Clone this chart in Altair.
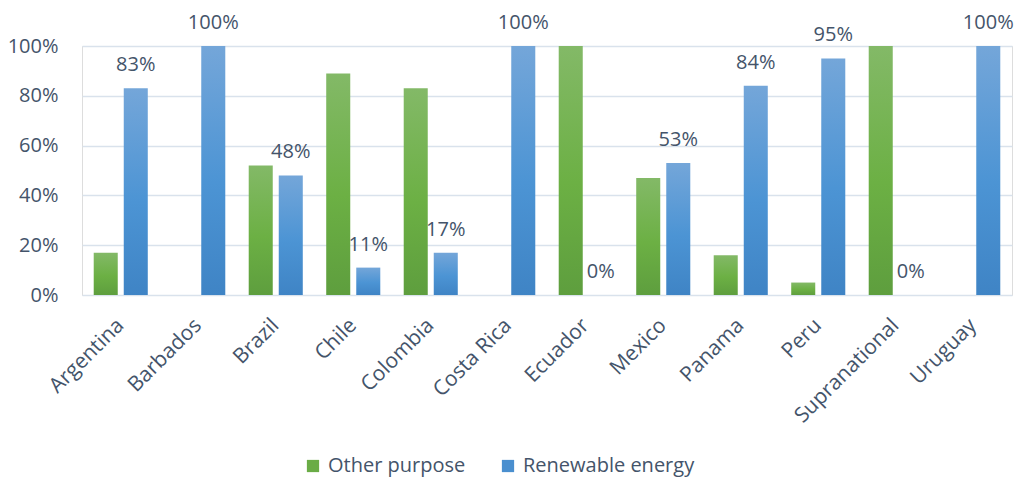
import altair as alt
import pandas as pd

countries = ["Argentina", "Barbados", "Brazil", "Chile", "Colombia", "Costa Rica",
             "Ecuador", "Mexico", "Panama", "Peru", "Supranational", "Uruguay"]
other_purpose = [0.17, 0.00, 0.52, 0.89, 0.83, 0.00, 1.00, 0.47, 0.16, 0.05, 1.00, 0.00]
renewable_energy = [0.83, 1.00, 0.48, 0.11, 0.17, 1.00, 0.00, 0.53, 0.84, 0.95, 0.00, 1.00]
series_names = ["Other purpose", "Renewable energy"]
series_colors = ["#6aac46", "#4a8fcf"]

rows = []
for c, o, r in zip(countries, other_purpose, renewable_energy):
    rows.append({"country": c, "series": series_names[0], "value": o})
    rows.append({"country": c, "series": series_names[1], "value": r})
df = pd.DataFrame(rows)

FONT = "Open Sans"
TEXT = "#44546a"

green_grad = alt.Gradient(gradient="linear", x1=0, y1=0, x2=0, y2=1,
                          stops=[alt.GradientStop(color="#83b967", offset=0),
                                 alt.GradientStop(color="#6cb044", offset=0.55),
                                 alt.GradientStop(color="#5e9e3e", offset=1)])
blue_grad = alt.Gradient(gradient="linear", x1=0, y1=0, x2=0, y2=1,
                         stops=[alt.GradientStop(color="#74a6d9", offset=0),
                                alt.GradientStop(color="#4c94d4", offset=0.55),
                                alt.GradientStop(color="#3f84c5", offset=1)])

x_enc = alt.X("country:N", sort=countries, title=None,
              scale=alt.Scale(paddingInner=0, paddingOuter=0),
              axis=alt.Axis(labelAngle=-45, labelAlign="right", labelBaseline="middle",
                            labelFont=FONT, labelFontSize=21, labelColor=TEXT,
                            labelPadding=27, labelLimit=0,
                            ticks=False, domain=False, grid=False))
xo_enc = alt.XOffset("series:N", sort=series_names,
                     scale=alt.Scale(domain=series_names, paddingInner=0.2, paddingOuter=0.39))
y_enc = alt.Y("value:Q", title=None,
              scale=alt.Scale(domain=[0, 1], nice=False),
              axis=alt.Axis(values=[0, 0.2, 0.4, 0.6, 0.8, 1.0], format=".0%",
                            labelFont=FONT, labelFontSize=20, labelColor=TEXT,
                            labelPadding=24, ticks=False, domain=False,
                            gridColor="#d9e2ec", gridWidth=1.6))

base = alt.Chart(df)

green_bars = base.transform_filter(alt.datum.series == series_names[0]).mark_bar(
    fill=green_grad).encode(x=x_enc, xOffset=xo_enc, y=y_enc)

blue_bars = base.transform_filter(alt.datum.series == series_names[1]).mark_bar(
    fill=blue_grad).encode(x=x_enc, xOffset=xo_enc, y=y_enc)

labels = base.transform_filter(alt.datum.series == series_names[1]).mark_text(
    font=FONT, fontSize=20, color=TEXT, baseline="alphabetic", dy=-17
).encode(x=x_enc, xOffset=xo_enc, y=y_enc, text=alt.Text("value:Q", format=".0%"))

legend_layer = base.mark_point(opacity=0, shape="square", filled=True).encode(
    x=x_enc, xOffset=xo_enc, y=y_enc,
    color=alt.Color("series:N", sort=series_names,
                    scale=alt.Scale(domain=series_names, range=series_colors),
                    legend=alt.Legend(title=None, orient="none", direction="horizontal",
                                      legendX=221, legendY=410,
                                      symbolType="square", symbolSize=150,
                                      symbolOpacity=1, symbolStrokeWidth=0,
                                      labelFont=FONT, labelFontSize=20, labelColor=TEXT,
                                      labelLimit=0, columnPadding=32, labelOffset=5))
)

chart = alt.layer(green_bars, blue_bars, labels, legend_layer).properties(
    width=930, height=249,
    autosize=alt.AutoSizeParams(type="none"),
    padding={"left": 82, "top": 46, "right": 10, "bottom": 184},
).configure_view(stroke=None).configure(background="white")

chart.save("out.html", embed_options={"renderer": "svg", "actions": False})
